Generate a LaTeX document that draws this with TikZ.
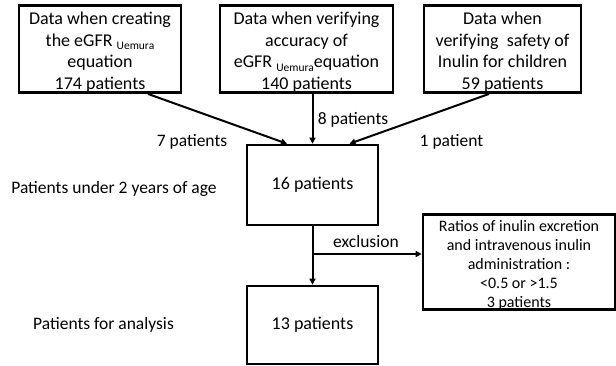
\documentclass[tikz,border=0pt]{standalone}
\usepackage{fontspec}
\setmainfont{Carlito}
\usetikzlibrary{arrows.meta,calc}
\newcommand{\uemsub}[1]{{\fontsize{11.5}{11.5}\selectfont\raisebox{-3.5pt}{#1}}}
\newcommand{\topstrut}[1]{\rule{0pt}{#1}}
\tikzset{
  box/.style={draw=black, line width=2.6pt, inner sep=0pt, align=center,
    font=\fontsize{18}{21.8}\selectfont},
  smallbox/.style={draw=black, line width=2.6pt, inner sep=0pt, align=center,
    font=\fontsize{16}{19}\selectfont},
  lbl/.style={inner sep=0pt, font=\fontsize{17.5}{21}\selectfont},
  arr/.style={line width=2pt, -{Triangle[length=6pt,width=6pt]}},
}
\begin{document}
\begin{tikzpicture}[x=1pt,y=-1pt]
\useasboundingbox (0,0) rectangle (616,366);
\node[box, minimum width=162pt, minimum height=80pt] (b1) at (100,49)
  {\topstrut{19pt}Data when creating\\the eGFR \uemsub{Uemura}\\equation\\174 patients};
\node[box, minimum width=173pt, minimum height=80pt] (b2) at (306.5,49)
  {\topstrut{19pt}Data when verifying\\accuracy of\\eGFR \uemsub{Uemura}equation\\140 patients};
\node[box, minimum width=157pt, minimum height=80pt] (b3) at (502.5,49)
  {\topstrut{19pt}Data when\\verifying\ \ safety of\\Inulin for children\\59 patients};
\node[box, minimum width=131pt, minimum height=80pt] (c) at (312.5,185) {16 patients};
\node[box, minimum width=131pt, minimum height=78pt] (d) at (312.5,325) {13 patients};
\node[smallbox, minimum width=192pt, minimum height=94pt] (r) at (519,262)
  {\topstrut{17pt}Ratios of inulin excretion\\and intravenous inulin\\administration :\\<0.5 or >1.5\\3 patients};

\node[lbl] (l7) at (192,142) {7 patients};
\node[lbl] (l8) at (353,120) {8 patients};
\node[lbl] (l1) at (451.5,142) {1 patient};
\node[lbl] (lex) at (366,241) {exclusion};
\node[lbl] (lage) at (114,189) {Patients under 2 years of age};
\node[lbl] (lana) at (103.5,325) {Patients for analysis};

\draw[arr] ([xshift=48pt]b1.south) -- ([xshift=-25.5pt]c.north);
\draw[arr] (c.north |- b2.south) -- (c.north);
\draw[arr] ([xshift=-13.5pt]b3.south) -- ([xshift=37pt]c.north);
\draw[arr] (c.south) -- (d.north);
\coordinate (j) at (312.5,254);
\draw[arr] (j) -- (j -| r.west);
\end{tikzpicture}
\end{document}
